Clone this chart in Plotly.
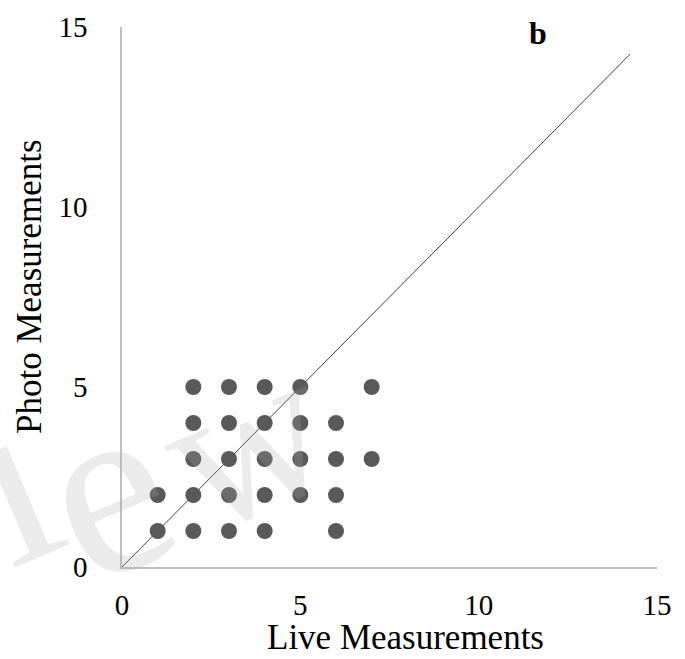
import plotly.graph_objects as go

# Data (Live, Photo) pairs
live  = [2, 3, 4, 5, 7,  2, 3, 4, 5, 6,  2, 3, 4, 5, 6, 7,  1, 2, 3, 4, 5, 6,  1, 2, 3, 4, 6]
photo = [5, 5, 5, 5, 5,  4, 4, 4, 4, 4,  3, 3, 3, 3, 3, 3,  2, 2, 2, 2, 2, 2,  1, 1, 1, 1, 1]
line_x = [0, 14.25]
line_y = [0, 14.25]
ticks = [0, 5, 10, 15]

FONT = "Liberation Serif"
W, H = 685, 659
L, R, T, B = 122, 28, 27, 92


def px(x, y):
    """pixel -> paper coordinates"""
    return (x - L) / (W - L - R), (H - B - y) / (H - T - B)


fig = go.Figure()
fig.add_trace(go.Scatter(x=line_x, y=line_y, mode="lines",
                         line=dict(color="#404040", width=1), hoverinfo="skip"))
fig.add_trace(go.Scatter(x=live, y=photo, mode="markers",
                         marker=dict(color="#595959", size=16, line=dict(width=0))))

wm_color = "rgba(170,170,170,0.24)"
wm = []
for txt, (cx, cy), size in [("i", (8, 478), 250), ("e", (105, 488), 250), ("w", (245, 440), 215)]:
    ax, ay = px(cx, cy)
    wm.append(dict(text=txt, x=ax, y=ay, xref="paper", yref="paper",
                   showarrow=False, textangle=-23, xanchor="center", yanchor="middle",
                   font=dict(family=FONT, size=size, color=wm_color)))

bx, by = px(538, 33)
tx, ty = px(405, 637)
yx, yy = px(29, 287)
fig.update_layout(
    width=W, height=H,
    margin=dict(l=L, r=R, t=T, b=B, autoexpand=False),
    paper_bgcolor="white", plot_bgcolor="white",
    showlegend=False,
    font=dict(family=FONT, color="black", size=24),
    xaxis=dict(range=[0, 15], tickvals=ticks, showgrid=False, zeroline=False,
               showline=True, linecolor="#bfbfbf", linewidth=1.5, automargin=False,
               ticks="", ticklabelstandoff=11, tickfont=dict(size=29)),
    yaxis=dict(range=[0, 15], tickvals=ticks, showgrid=False, zeroline=False,
               showline=True, linecolor="#bfbfbf", linewidth=1.5, automargin=False,
               ticks="", ticklabelstandoff=27, tickfont=dict(size=29)),
    annotations=[
        dict(text="<b>b</b>", x=bx, y=by, xref="paper", yref="paper",
             xanchor="center", yanchor="middle", showarrow=False,
             font=dict(family=FONT, size=32, color="black")),
        dict(text="Live Measurements", x=tx, y=ty, xref="paper", yref="paper",
             xanchor="center", yanchor="middle", showarrow=False,
             font=dict(family=FONT, size=35, color="black")),
        dict(text="Photo Measurements", x=yx, y=yy, xref="paper", yref="paper",
             xanchor="center", yanchor="middle", showarrow=False, textangle=-90,
             font=dict(family=FONT, size=35, color="black")),
    ] + wm,
)
fig.write_html("out.html")
